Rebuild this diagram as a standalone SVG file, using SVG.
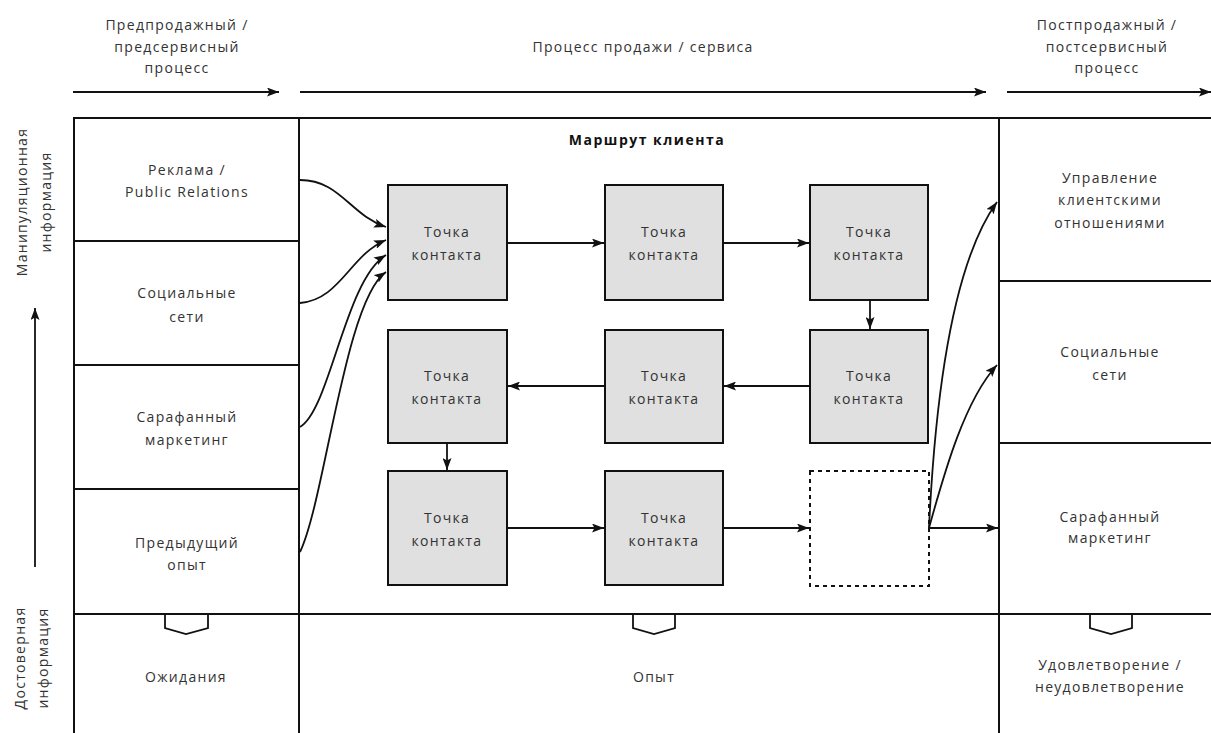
<svg xmlns="http://www.w3.org/2000/svg" width="1211" height="733" viewBox="0 0 1211 733">
<defs>
<marker id="ah" viewBox="0 0 12 9" refX="12" refY="4.5" markerWidth="12" markerHeight="9" markerUnits="userSpaceOnUse" orient="auto">
<path d="M0,0 L12,4.5 L0,9 L2.5,4.5 Z" fill="#111"/>
</marker>
<style>
.t{font-family:"Open Sans","Noto Sans",sans-serif;font-size:14px;letter-spacing:1.3px;fill:#333;text-anchor:middle}
.b{font-weight:bold;fill:#111;letter-spacing:1.5px}
.fr{fill:none;stroke:#111;stroke-width:2}
.box{fill:#e0e0e0;stroke:#111;stroke-width:2}
.dash{fill:#fff;stroke:#111;stroke-width:2;stroke-dasharray:4 4}
.a{fill:none;stroke:#111;stroke-width:1.8;marker-end:url(#ah)}
.cup{fill:#fff;stroke:#111;stroke-width:1.8}
</style>
</defs>
<rect width="1211" height="733" fill="#fff"/>

<g id="headers">
<text class="t"><tspan x="177" y="30">Предпродажный /</tspan><tspan x="177" y="52">предсервисный</tspan><tspan x="177" y="73">процесс</tspan></text>
<text class="t" x="643" y="52">Процесс продажи / сервиса</text>
<text class="t"><tspan x="1107" y="30">Постпродажный /</tspan><tspan x="1107" y="52">постсервисный</tspan><tspan x="1107" y="73">процесс</tspan></text>
<line class="a" x1="73" y1="92" x2="279" y2="92"/>
<line class="a" x1="300" y1="92" x2="986" y2="92"/>
<line class="a" x1="1007" y1="92" x2="1211" y2="92"/>
</g>

<g id="side">
<text class="t" transform="translate(27,202) rotate(-90)"><tspan x="0" y="0">Манипуляционная</tspan><tspan x="0" y="24">информация</tspan></text>
<line class="a" x1="35" y1="567" x2="35" y2="308"/>
<text class="t" transform="translate(25,658) rotate(-90)"><tspan x="0" y="0">Достоверная</tspan><tspan x="0" y="23">информация</tspan></text>
</g>

<g id="frame">
<path class="fr" d="M74,733 V118 H1211"/>
<line class="fr" x1="299" y1="118" x2="299" y2="733"/>
<line class="fr" x1="999" y1="118" x2="999" y2="733"/>
<line class="fr" x1="74" y1="614" x2="1211" y2="614"/>
<line class="fr" x1="74" y1="241" x2="299" y2="241"/>
<line class="fr" x1="74" y1="365" x2="299" y2="365"/>
<line class="fr" x1="74" y1="489" x2="299" y2="489"/>
<line class="fr" x1="999" y1="281" x2="1211" y2="281"/>
<line class="fr" x1="999" y1="443" x2="1211" y2="443"/>
</g>

<g id="left-cells">
<text class="t"><tspan x="187" y="175">Реклама /</tspan><tspan x="187" y="197">Public Relations</tspan></text>
<text class="t"><tspan x="187" y="298">Социальные</tspan><tspan x="187" y="322">сети</tspan></text>
<text class="t"><tspan x="187" y="422">Сарафанный</tspan><tspan x="187" y="445">маркетинг</tspan></text>
<text class="t"><tspan x="187" y="548">Предыдущий</tspan><tspan x="187" y="570">опыт</tspan></text>
</g>

<g id="right-cells">
<text class="t"><tspan x="1110" y="183">Управление</tspan><tspan x="1110" y="205">клиентскими</tspan><tspan x="1110" y="228">отношениями</tspan></text>
<text class="t"><tspan x="1110" y="357">Социальные</tspan><tspan x="1110" y="380">сети</tspan></text>
<text class="t"><tspan x="1110" y="522">Сарафанный</tspan><tspan x="1110" y="543">маркетинг</tspan></text>
</g>

<g id="bottom-cells">
<path class="cup" d="M165,615 V628 L186,634 L208,628 V615"/>
<path class="cup" d="M633,615 V628 L654,634 L675,628 V615"/>
<path class="cup" d="M1090,615 V628 L1111,634 L1132,628 V615"/>
<text class="t" x="186" y="682">Ожидания</text>
<text class="t" x="654" y="682">Опыт</text>
<text class="t"><tspan x="1110" y="670">Удовлетворение /</tspan><tspan x="1110" y="692">неудовлетворение</tspan></text>
</g>

<text class="t b" x="647" y="145">Маршрут клиента</text>

<g id="n1"><rect class="box" x="388" y="185" width="119" height="115"/><text class="t"><tspan x="447" y="237">Точка</tspan><tspan x="447" y="260">контакта</tspan></text></g>
<g id="n2"><rect class="box" x="605" y="185" width="118" height="115"/><text class="t"><tspan x="664" y="237">Точка</tspan><tspan x="664" y="260">контакта</tspan></text></g>
<g id="n3"><rect class="box" x="810" y="185" width="118" height="115"/><text class="t"><tspan x="869" y="237">Точка</tspan><tspan x="869" y="260">контакта</tspan></text></g>
<g id="n4"><rect class="box" x="810" y="330" width="118" height="113"/><text class="t"><tspan x="869" y="381">Точка</tspan><tspan x="869" y="404">контакта</tspan></text></g>
<g id="n5"><rect class="box" x="605" y="330" width="118" height="113"/><text class="t"><tspan x="664" y="381">Точка</tspan><tspan x="664" y="404">контакта</tspan></text></g>
<g id="n6"><rect class="box" x="388" y="330" width="119" height="113"/><text class="t"><tspan x="447" y="381">Точка</tspan><tspan x="447" y="404">контакта</tspan></text></g>
<g id="n7"><rect class="box" x="388" y="471" width="119" height="114"/><text class="t"><tspan x="447" y="523">Точка</tspan><tspan x="447" y="546">контакта</tspan></text></g>
<g id="n8"><rect class="box" x="605" y="471" width="118" height="114"/><text class="t"><tspan x="664" y="523">Точка</tspan><tspan x="664" y="546">контакта</tspan></text></g>
<g id="n9"><rect class="dash" x="810" y="471" width="119" height="115"/></g>

<g id="connectors">
<line class="a" x1="507" y1="243" x2="604" y2="243"/>
<line class="a" x1="723" y1="243" x2="809" y2="243"/>
<line class="a" x1="870" y1="300" x2="870" y2="329"/>
<line class="a" x1="810" y1="386" x2="724" y2="386"/>
<line class="a" x1="605" y1="386" x2="508" y2="386"/>
<line class="a" x1="447" y1="443" x2="447" y2="470"/>
<line class="a" x1="507" y1="528" x2="604" y2="528"/>
<line class="a" x1="723" y1="528" x2="809" y2="528"/>
<line class="a" x1="929" y1="528" x2="998" y2="528"/>
<path class="a" d="M929,528 C936,380 955,260 997,202"/>
<path class="a" d="M929,528 C945,470 965,400 997,365"/>
<path class="a" d="M300,180 C340,180 350,215 386,227"/>
<path class="a" d="M300,303 C340,300 350,255 386,240"/>
<path class="a" d="M300,427 C330,410 345,280 386,255"/>
<path class="a" d="M300,552 C325,500 345,300 386,272"/>
</g>
</svg>
